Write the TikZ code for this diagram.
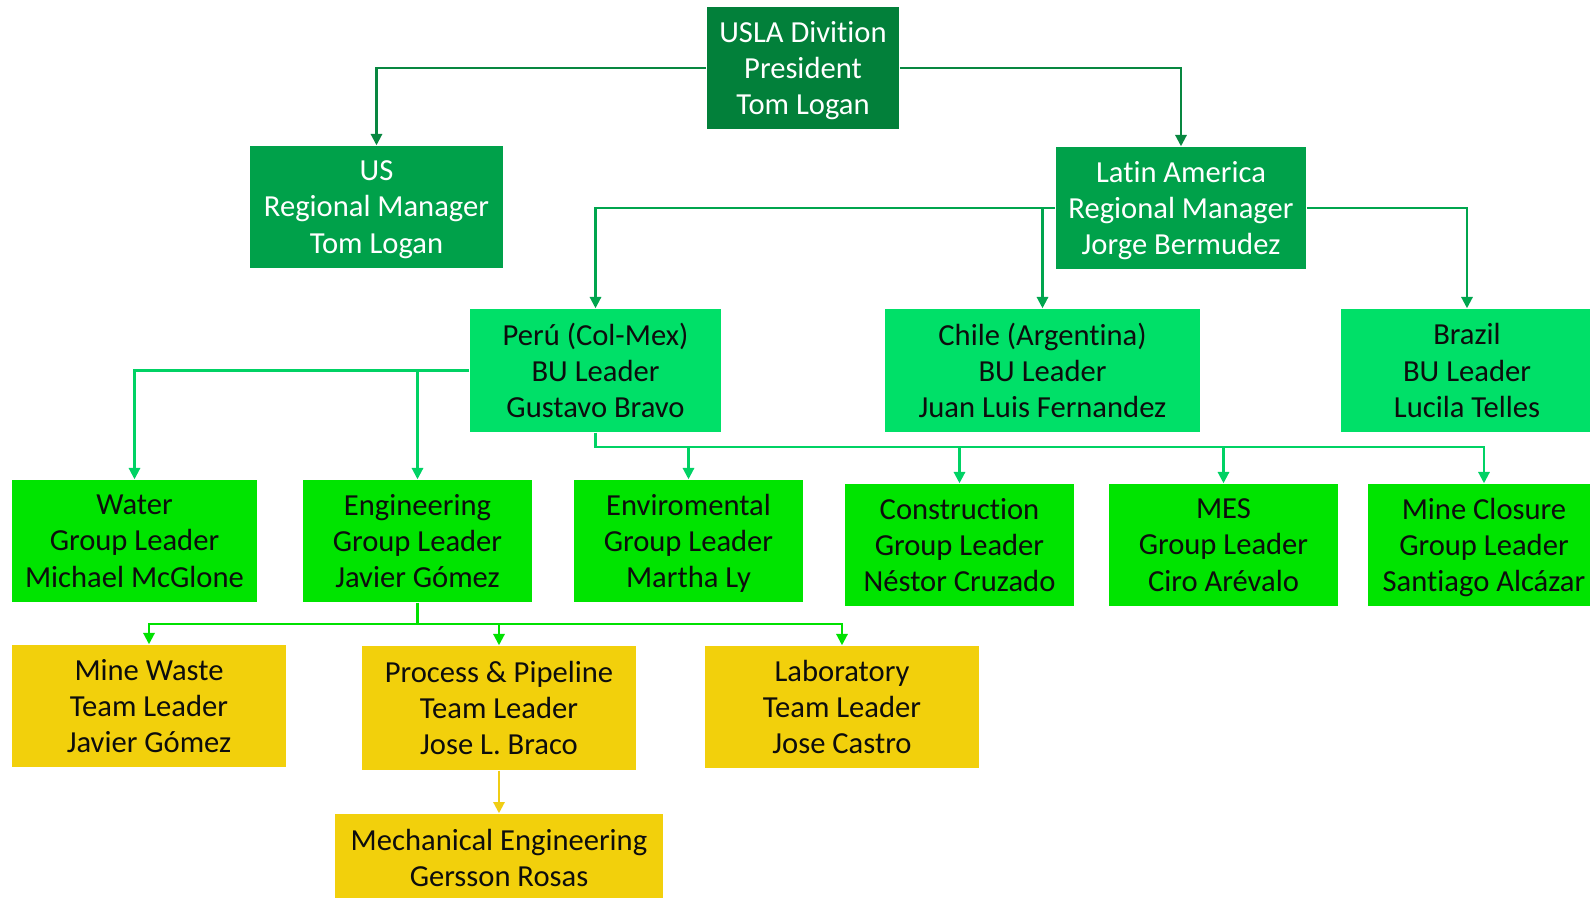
\documentclass[tikz,border=0pt]{standalone}
\usepackage{fontspec}
\setmainfont{Carlito}[Ligatures=NoCommon]
\usetikzlibrary{arrows.meta}

\definecolor{topgreen}{RGB}{2,128,58}
\definecolor{regiongreen}{RGB}{0,161,74}
\definecolor{bugreen}{RGB}{0,224,104}
\definecolor{groupgreen}{RGB}{0,228,0}
\definecolor{teamyellow}{RGB}{242,208,12}
\definecolor{linkdark}{RGB}{8,135,64}
\definecolor{linkmid}{RGB}{0,165,78}
\definecolor{linklight}{RGB}{0,210,100}
\definecolor{linkbright}{RGB}{0,225,0}
\definecolor{linkyellow}{RGB}{240,205,20}

\begin{document}
\begin{tikzpicture}[x=0.01cm,y=-0.01cm,
    box/.style={inner sep=0pt, align=center, minimum height=1.22cm,
        font=\fontsize{8.7}{10.3}\selectfont, text depth=0pt},
    lvltop/.style={box, fill=topgreen, text=white},
    lvlregion/.style={box, fill=regiongreen, text=white},
    lvlbu/.style={box, fill=bugreen, text=black!95},
    lvlgroup/.style={box, fill=groupgreen, text=black!95},
    lvlteam/.style={box, fill=teamyellow, text=black!95},
    link/.style={-{Triangle[width=3.2pt,length=3.2pt]}, line width=0.6pt}]

    \useasboundingbox (0,0) rectangle (1590,898);

    % direccion
    \node[lvltop, minimum width=1.92cm] (usla) at (803,68)
        {USLA Divition\\President\\Tom Logan};

    % gerentes regionales
    \node[lvlregion, minimum width=2.53cm] (us) at (376.5,207)
        {US\\Regional Manager\\Tom Logan};
    \node[lvlregion, minimum width=2.50cm] (latam) at (1181,208)
        {Latin America\\Regional Manager\\Jorge Bermudez};

    % unidades de negocio
    \node[lvlbu, minimum width=2.51cm, minimum height=1.23cm] (peru) at (595.5,370.5)
        {Perú (Col-Mex)\\BU Leader\\Gustavo Bravo};
    \node[lvlbu, minimum width=3.15cm, minimum height=1.23cm] (chile) at (1042.5,370.5)
        {Chile (Argentina)\\BU Leader\\Juan Luis Fernandez};
    \node[lvlbu, minimum width=2.52cm, minimum height=1.23cm] (brazil) at (1467,370.5)
        {Brazil\\BU Leader\\Lucila Telles};

    % grupos
    \node[lvlgroup, minimum width=2.45cm] (water) at (134.5,541)
        {Water\\Group Leader\\Michael McGlone};
    \node[lvlgroup, minimum width=2.29cm] (eng) at (417.5,541)
        {Engineering\\Group Leader\\Javier Gómez};
    \node[lvlgroup, minimum width=2.29cm] (env) at (688.5,541)
        {Enviromental\\Group Leader\\Martha Ly};
    \node[lvlgroup, minimum width=2.29cm] (constr) at (959.5,545)
        {Construction\\Group Leader\\Néstor Cruzado};
    \node[lvlgroup, minimum width=2.29cm] (mes) at (1223.5,545)
        {MES\\Group Leader\\Ciro Arévalo};
    \node[lvlgroup, minimum width=2.32cm] (closure) at (1484,545)
        {Mine Closure\\Group Leader\\Santiago Alcázar};

    % equipos
    \node[lvlteam, minimum width=2.74cm] (waste) at (149,706)
        {Mine Waste\\Team Leader\\Javier Gómez};
    \node[lvlteam, minimum width=2.74cm, minimum height=1.24cm] (pipe) at (499,708)
        {Process \& Pipeline\\Team Leader\\Jose L. Braco};
    \node[lvlteam, minimum width=2.74cm] (lab) at (842,707)
        {Laboratory\\Team Leader\\Jose Castro};
    \node[lvlteam, minimum width=3.28cm, minimum height=0.88cm] (mech) at (499,858)
        {Mechanical Engineering\\Gersson Rosas};

    % conexiones
    \draw[link, linkdark] (usla.west) -| (us.north);
    \draw[link, linkdark] (usla.east) -| (latam.north);

    \draw[link, linkmid] (latam.west) -| (peru.north);
    \draw[link, linkmid] (latam.west -| chile.north) -- (chile.north);
    \draw[link, linkmid] (latam.east) -| (brazil.north);

    \draw[link, linklight] (peru.west) -| (water.north);
    \draw[link, linklight] (peru.west -| eng.north) -- (eng.north);

    \coordinate (pbus) at (595.5,447);
    \draw[link, linklight] (peru.south) -- (pbus) -| (closure.north);
    \foreach \g in {env, constr, mes}
        \draw[link, linklight] (pbus -| \g.north) -- (\g.north);

    \coordinate (ebus) at (417.5,624);
    \draw[line width=0.6pt, linkbright] (eng.south) -- (ebus);
    \draw[link, linkbright] (ebus) -| (waste.north);
    \draw[link, linkbright] (ebus) -| (lab.north);
    \draw[link, linkbright] (ebus -| pipe.north) -- (pipe.north);

    \draw[link, linkyellow] (pipe.south) -- (mech.north);
\end{tikzpicture}
\end{document}
